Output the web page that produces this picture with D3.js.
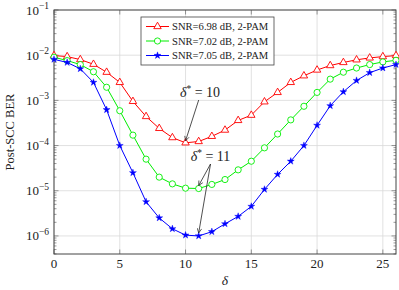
<!DOCTYPE html>
<html>
<head>
<meta charset="utf-8">
<script src="https://cdn.jsdelivr.net/npm/d3@7"></script>
<style>
  body { margin: 0; background: #fff; }
  text { font-family: "Liberation Serif", "DejaVu Serif", serif; fill: #222; }
</style>
</head>
<body>
<svg id="chart" width="399" height="290"></svg>
<script>
// delta values (x axis)
var delta = [0,1,2,3,4,5,6,7,8,9,10,11,12,13,14,15,16,17,18,19,20,21,22,23,24,25,26]

// post-SCC BER
var ber_698 = [9.8e-3,9.3e-3,8.0e-3,6.3e-3,4.2e-3,2.5e-3,9.5e-4,4.4e-4,2.4e-4,1.5e-4,1.15e-4,1.23e-4,1.6e-4,2.2e-4,3.6e-4,4.7e-4,9.3e-4,1.5e-3,2.5e-3,3.5e-3,4.7e-3,5.9e-3,6.9e-3,7.9e-3,8.7e-3,9.3e-3,9.8e-3]
var ber_702 = [9.0e-3,7.6e-3,6.2e-3,4.3e-3,1.95e-3,5.9e-4,1.7e-4,5.0e-5,2.0e-5,1.42e-5,1.14e-5,1.12e-5,1.38e-5,1.77e-5,2.9e-5,4.5e-5,8.9e-5,1.8e-4,3.7e-4,7.4e-4,1.5e-3,2.95e-3,4.2e-3,5.2e-3,6.2e-3,7.1e-3,7.7e-3]
var ber_705 = [8.1e-3,6.9e-3,5.0e-3,2.5e-3,6.2e-4,1.0e-4,2.5e-5,5.7e-6,2.5e-6,1.44e-6,1.04e-6,1.0e-6,1.24e-6,1.85e-6,2.7e-6,4.5e-6,1.07e-5,2.3e-5,4.5e-5,1.0e-4,2.8e-4,7.6e-4,1.55e-3,2.75e-3,4.1e-3,5.2e-3,6.2e-3]

var series_names = ["SNR=6.98 dB, 2-PAM", "SNR=7.02 dB, 2-PAM", "SNR=7.05 dB, 2-PAM"]
var series_colors = ["#ff0000", "#00ee00", "#0000ff"]
var series_marks = ["triangle", "circle", "star"]

var x_ticks = [0,5,10,15,20,25]
var y_ticks = [1e-1,1e-2,1e-3,1e-4,1e-5,1e-6]
var y_tick_exp = ["\u22121","\u22122","\u22123","\u22124","\u22125","\u22126"]

var svg = d3.select("#chart")
var plot_left = 54, plot_right = 396, plot_top = 10, plot_bottom = 254

var x = d3.scaleLinear().domain([0, 26]).range([plot_left, plot_right])
var y = d3.scaleLog().domain([Math.pow(10, -6.4), 0.1]).range([plot_bottom, plot_top])

// grid
var grid = svg.append("g").attr("stroke", "#d9d9d9").attr("stroke-width", 0.8)
grid.selectAll(".gx").data(x_ticks).enter().append("line")
    .attr("x1", function(d){ return x(d) }).attr("x2", function(d){ return x(d) })
    .attr("y1", plot_top).attr("y2", plot_bottom)
grid.selectAll(".gy").data(y_ticks).enter().append("line")
    .attr("x1", plot_left).attr("x2", plot_right)
    .attr("y1", function(d){ return y(d) }).attr("y2", function(d){ return y(d) })

// minor ticks on the log axis
var minor = []
y_ticks.concat([1e-7]).forEach(function(t){
  for (var k = 2; k <= 9; k++) {
    var v = t * k
    if (v < 0.1 && v > y.domain()[0]) minor.push(v)
  }
})
var ticks = svg.append("g").attr("stroke", "#555").attr("stroke-width", 0.6)
ticks.selectAll(".ml").data(minor).enter().append("line")
    .attr("x1", plot_left).attr("x2", plot_left + 2.5)
    .attr("y1", function(d){ return y(d) }).attr("y2", function(d){ return y(d) })
ticks.selectAll(".mr").data(minor).enter().append("line")
    .attr("x1", plot_right).attr("x2", plot_right - 2.5)
    .attr("y1", function(d){ return y(d) }).attr("y2", function(d){ return y(d) })
ticks.selectAll(".yl").data(y_ticks).enter().append("line")
    .attr("x1", plot_left).attr("x2", plot_left + 4.5)
    .attr("y1", function(d){ return y(d) }).attr("y2", function(d){ return y(d) })
ticks.selectAll(".yr").data(y_ticks).enter().append("line")
    .attr("x1", plot_right).attr("x2", plot_right - 4.5)
    .attr("y1", function(d){ return y(d) }).attr("y2", function(d){ return y(d) })
ticks.selectAll(".xb").data(x_ticks).enter().append("line")
    .attr("x1", function(d){ return x(d) }).attr("x2", function(d){ return x(d) })
    .attr("y1", plot_bottom).attr("y2", plot_bottom - 4.5)
ticks.selectAll(".xt").data(x_ticks).enter().append("line")
    .attr("x1", function(d){ return x(d) }).attr("x2", function(d){ return x(d) })
    .attr("y1", plot_top).attr("y2", plot_top + 4.5)

// frame
svg.append("rect")
    .attr("x", plot_left).attr("y", plot_top)
    .attr("width", plot_right - plot_left).attr("height", plot_bottom - plot_top)
    .attr("fill", "none").attr("stroke", "#444").attr("stroke-width", 1)

// tick labels
svg.selectAll(".xlab").data(x_ticks).enter().append("text")
    .attr("x", function(d){ return x(d) }).attr("y", 268)
    .attr("text-anchor", "middle").attr("font-size", 13)
    .text(function(d){ return d })

var ylab = svg.selectAll(".ylab").data(y_ticks).enter().append("text")
    .attr("x", 49).attr("y", function(d){ return y(d) + 4.5 })
    .attr("text-anchor", "end").attr("font-size", 13)
ylab.append("tspan").text("10")
ylab.append("tspan").attr("dy", -5.5).attr("font-size", 9.5)
    .text(function(d, i){ return y_tick_exp[i] })

// axis titles
svg.append("text").attr("x", x(13)).attr("y", 285)
    .attr("text-anchor", "middle").attr("font-size", 13.5).attr("font-style", "italic")
    .text("\u03b4")
svg.append("text")
    .attr("transform", "translate(14," + ((plot_top + plot_bottom) / 2) + ") rotate(-90)")
    .attr("text-anchor", "middle").attr("font-size", 12.5)
    .text("Post-SCC BER")

// curves
var all_series = [ber_698, ber_702, ber_705]
var line = d3.line()
    .x(function(d, i){ return x(delta[i]) })
    .y(function(d){ return y(d) })

function draw_mark(g, kind, color) {
  if (kind === "triangle") {
    g.append("path").attr("d", d3.symbol().type(d3.symbolTriangle).size(24)())
        .attr("fill", "#fff").attr("stroke", color).attr("stroke-width", 0.9)
  } else if (kind === "circle") {
    g.append("circle").attr("r", 3.1)
        .attr("fill", "#fff").attr("stroke", color).attr("stroke-width", 0.9)
  } else {
    g.append("path").attr("d", d3.symbol().type(d3.symbolStar).size(15)())
        .attr("fill", color).attr("stroke", color).attr("stroke-width", 0.4)
  }
}

all_series.forEach(function(vals, s){
  svg.append("path").datum(vals)
      .attr("d", line)
      .attr("fill", "none")
      .attr("stroke", series_colors[s])
      .attr("stroke-width", 1)
  svg.selectAll(".m" + s).data(vals).enter().append("g")
      .attr("transform", function(d, i){ return "translate(" + x(delta[i]) + "," + y(d) + ")" })
      .each(function(){ draw_mark(d3.select(this), series_marks[s], series_colors[s]) })
})

// arrows and labels
svg.append("defs").append("marker")
    .attr("id", "arr").attr("viewBox", "0 0 10 10")
    .attr("refX", 9).attr("refY", 5)
    .attr("markerWidth", 7).attr("markerHeight", 7)
    .attr("orient", "auto-start-reverse")
  .append("path").attr("d", "M1,1 L9,5 L1,9")
    .attr("fill", "none").attr("stroke", "#222").attr("stroke-width", 1.2)

function arrow(x1, y1, x2, y2) {
  svg.append("line").attr("x1", x1).attr("y1", y1).attr("x2", x2).attr("y2", y2)
      .attr("stroke", "#222").attr("stroke-width", 0.8)
      .attr("marker-end", "url(#arr)")
}

function delta_label(cx, by, val) {
  var t = svg.append("text").attr("x", cx).attr("y", by)
      .attr("text-anchor", "middle").attr("font-size", 14)
  t.append("tspan").attr("font-style", "italic").text("\u03b4")
  t.append("tspan").attr("dy", -5.5).attr("font-size", 9.5).text("*")
  t.append("tspan").attr("dy", 5.5).text(" = " + val)
}

delta_label(x(11.1), 97, 10)
arrow(x(11), 100, x(10), y(ber_698[10]) - 2)

delta_label(x(11.9), 161, 11)
arrow(x(11.9), 164, x(11), y(ber_702[11]) - 3)
arrow(x(11.9), 164, x(11), y(ber_705[11]) - 3)

// legend
var lg = svg.append("g").attr("transform", "translate(141,17)")
lg.append("rect").attr("width", 133).attr("height", 48)
    .attr("fill", "#fff").attr("stroke", "#444").attr("stroke-width", 0.8)
series_names.forEach(function(name, s){
  var row = lg.append("g").attr("transform", "translate(0," + (9.5 + s * 14.5) + ")")
  row.append("line").attr("x1", 5).attr("x2", 28)
      .attr("stroke", series_colors[s]).attr("stroke-width", 1)
  draw_mark(row.append("g").attr("transform", "translate(16.5,0)"), series_marks[s], series_colors[s])
  row.append("text").attr("x", 31).attr("y", 3.6).attr("font-size", 10.6).text(name)
})
</script>
</body>
</html>
